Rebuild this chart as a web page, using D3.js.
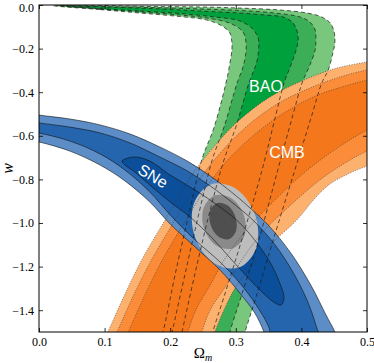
<!DOCTYPE html>
<html><head><meta charset="utf-8">
<script src="https://cdn.jsdelivr.net/npm/d3@7"></script>
<style>html,body{margin:0;padding:0;background:#fff;} svg{display:block}</style>
</head><body>
<svg id="chart" width="374" height="363"></svg>
<script>
// ---- data (Omega_m, w) ----
const xTicks = [0, 0.1, 0.2, 0.3, 0.4, 0.5];
const yTicks = [0, -0.2, -0.4, -0.6, -0.8, -1.0, -1.2, -1.4];

// BAO confidence contours (outer = 3 sigma, mid = 2 sigma, inner = 1 sigma)
const baoOuter = [[0.022,-0.003],[0.093,-0.021],[0.154,-0.037],[0.215,-0.053],[0.256,-0.069],[0.279,-0.096],[0.291,-0.128],[0.294,-0.170],[0.294,-0.206],[0.290,-0.284],[0.285,-0.358],[0.267,-0.560],[0.248,-0.711],[0.230,-0.940],[0.209,-1.216],[0.189,-1.500],[0.181,-1.583],
  [0.306,-1.583],[0.314,-1.500],[0.331,-1.339],[0.357,-1.078],[0.390,-0.757],[0.416,-0.505],[0.431,-0.358],[0.441,-0.298],[0.448,-0.220],[0.451,-0.174],[0.450,-0.124],[0.444,-0.083],[0.431,-0.055],[0.409,-0.037],[0.367,-0.023],[0.306,-0.014],[0.245,-0.009],[0.169,-0.007],[0.093,-0.002]];
const baoMid = [[0.030,-0.003],[0.093,-0.018],[0.154,-0.032],[0.215,-0.046],[0.261,-0.062],[0.294,-0.087],[0.311,-0.124],[0.3155,-0.170],[0.3155,-0.216],[0.311,-0.284],[0.302,-0.358],[0.282,-0.560],[0.264,-0.711],[0.245,-0.940],[0.224,-1.216],[0.203,-1.500],[0.197,-1.583],
  [0.285,-1.583],[0.291,-1.500],[0.308,-1.339],[0.335,-1.078],[0.364,-0.757],[0.387,-0.505],[0.401,-0.358],[0.413,-0.275],[0.421,-0.206],[0.422,-0.161],[0.421,-0.115],[0.413,-0.078],[0.398,-0.055],[0.360,-0.037],[0.306,-0.025],[0.245,-0.018],[0.169,-0.0115],[0.093,-0.007]];
const baoInner = [[0.042,-0.006],[0.154,-0.0275],[0.215,-0.039],[0.268,-0.055],[0.306,-0.073],[0.326,-0.110],[0.334,-0.151],[0.335,-0.193],[0.332,-0.261],[0.320,-0.358],[0.300,-0.560],[0.282,-0.711],[0.261,-0.940],[0.239,-1.216],[0.218,-1.500],[0.212,-1.583],
  [0.259,-1.583],[0.265,-1.500],[0.282,-1.339],[0.309,-1.078],[0.340,-0.757],[0.361,-0.505],[0.3735,-0.358],[0.384,-0.275],[0.392,-0.206],[0.395,-0.161],[0.393,-0.115],[0.386,-0.078],[0.372,-0.055],[0.345,-0.046],[0.306,-0.037],[0.245,-0.0275],[0.169,-0.016]];

// CMB confidence contours
const cmbOuter = [[0.093,-1.583],[0.105,-1.500],[0.134,-1.307],[0.159,-1.156],[0.195,-0.972],[0.226,-0.812],[0.256,-0.688],[0.302,-0.537],[0.352,-0.422],[0.404,-0.344],[0.454,-0.289],[0.500,-0.261],[0.535,-0.239],
  [0.535,-0.702],[0.500,-0.739],[0.474,-0.771],[0.4436,-0.821],[0.421,-0.885],[0.393,-0.986],[0.349,-1.110],[0.322,-1.206],[0.299,-1.298],[0.282,-1.399],[0.268,-1.500],[0.258,-1.583]];
const cmbMid = [[0.107,-1.583],[0.119,-1.500],[0.148,-1.307],[0.174,-1.156],[0.210,-0.972],[0.241,-0.817],[0.271,-0.697],[0.3155,-0.560],[0.363,-0.454],[0.413,-0.381],[0.459,-0.330],[0.500,-0.298],[0.535,-0.280],
  [0.535,-0.628],[0.500,-0.670],[0.4665,-0.725],[0.428,-0.803],[0.372,-0.950],[0.340,-1.046],[0.311,-1.161],[0.288,-1.275],[0.261,-1.399],[0.248,-1.500],[0.239,-1.583]];
const cmbInner = [[0.1235,-1.583],[0.136,-1.500],[0.165,-1.307],[0.1905,-1.156],[0.224,-0.986],[0.2546,-0.839],[0.285,-0.720],[0.328,-0.596],[0.3735,-0.495],[0.422,-0.417],[0.4665,-0.372],[0.500,-0.344],[0.535,-0.321],
  [0.535,-0.518],[0.500,-0.573],[0.459,-0.647],[0.4055,-0.766],[0.352,-0.917],[0.314,-1.041],[0.284,-1.161],[0.261,-1.284],[0.239,-1.399],[0.227,-1.500],[0.2195,-1.583]];

// SNe confidence contours
const sneOuter = [[-0.029,-0.491],[0,-0.505],[0.047,-0.523],[0.093,-0.550],[0.139,-0.592],[0.184,-0.651],[0.226,-0.716],[0.261,-0.784],[0.299,-0.872],[0.325,-0.940],[0.352,-1.018],[0.386,-1.147],[0.416,-1.294],[0.4375,-1.422],[0.451,-1.500],[0.459,-1.583],
  [0.352,-1.583],[0.343,-1.500],[0.329,-1.413],[0.306,-1.321],[0.276,-1.216],[0.238,-1.110],[0.200,-1.005],[0.169,-0.904],[0.131,-0.807],[0.093,-0.734],[0.047,-0.670],[0,-0.628],[-0.029,-0.610]];
const sneMid = [[-0.029,-0.528],[0,-0.541],[0.047,-0.560],[0.093,-0.587],[0.139,-0.633],[0.184,-0.697],[0.226,-0.761],[0.261,-0.830],[0.299,-0.917],[0.329,-0.995],[0.360,-1.101],[0.387,-1.225],[0.4085,-1.353],[0.422,-1.468],[0.431,-1.583],
  [0.364,-1.583],[0.349,-1.468],[0.331,-1.376],[0.306,-1.275],[0.276,-1.179],[0.238,-1.078],[0.200,-0.963],[0.169,-0.858],[0.131,-0.757],[0.093,-0.683],[0.047,-0.624],[0,-0.587],[-0.029,-0.573]];
const sneInner = [[0.1265,-0.716],[0.146,-0.697],[0.169,-0.716],[0.200,-0.780],[0.238,-0.849],[0.276,-0.927],[0.306,-1.000],[0.331,-1.087],[0.352,-1.179],[0.367,-1.275],[0.3735,-1.344],[0.369,-1.376],
  [0.360,-1.367],[0.340,-1.317],[0.319,-1.252],[0.294,-1.170],[0.264,-1.069],[0.230,-0.972],[0.200,-0.904],[0.169,-0.826],[0.146,-0.766],[0.131,-0.734]];

// Combined constraint contours
const combOuter = [[0.3043,-1.2055],[0.331,-1.117],[0.330,-0.968],[0.3017,-0.846],[0.2628,-0.822],[0.2361,-0.9106],[0.2372,-1.059],[0.2654,-1.181]];
const combMid = [[0.2953,-1.117],[0.313,-1.061],[0.3125,-0.966],[0.294,-0.888],[0.2688,-0.873],[0.2511,-0.930],[0.2515,-1.025],[0.270,-1.103]];
const combInner = [[0.2895,-1.074],[0.3003,-1.037],[0.2994,-0.972],[0.2875,-0.919],[0.2715,-0.908],[0.2607,-0.945],[0.2616,-1.009],[0.2735,-1.062]];

const labelNames = ["BAO", "CMB", "SNe"];
const labelPos = [[0.346,-0.372],[0.378,-0.674],[0.174,-0.784]];
const labelAngle = [0, 0, 31];

// ---- drawing ----
const W = 374, H = 363, m = {l: 39, r: 7, t: 5, b: 31};
const svg = d3.select("#chart");
const x = d3.scaleLinear().domain([0, 0.5]).range([m.l, W - m.r]);
const y = d3.scaleLinear().domain([0, -1.5]).range([m.t, H - m.b]);

svg.append("defs").append("clipPath").attr("id", "clip")
  .append("rect").attr("x", m.l).attr("y", m.t).attr("width", W - m.l - m.r).attr("height", H - m.t - m.b);

const path = d3.line().x(d => x(d[0])).y(d => y(d[1])).curve(d3.curveCatmullRomClosed.alpha(0.5));
const plot = svg.append("g").attr("clip-path", "url(#clip)");

const layers = [
  {d: baoOuter, c: "#79c77d", s: "bao"}, {d: baoMid, c: "#3cae57", s: "bao"}, {d: baoInner, c: "#00a03c", s: "bao"},
  {d: cmbOuter, c: "#fdb16f", s: "cmb"}, {d: cmbMid, c: "#fa8c3a", s: "cmb"}, {d: cmbInner, c: "#f4781b", s: "cmb"},
  {d: sneOuter, c: "#5d8dc6", s: "sne"}, {d: sneMid, c: "#2565ad", s: "sne"}, {d: sneInner, c: "#0b4f9a", s: "sne"},
  {d: combOuter, c: "#bdbdbd", s: "comb"}, {d: combMid, c: "#8a8a8a", s: "comb"}, {d: combInner, c: "#4f4f4f", s: "comb"}
];
layers.forEach(L => plot.append("path").attr("d", path(L.d)).attr("fill", L.c).attr("stroke", "none"));

const lineStyle = {
  bao: {dash: "4,3", color: "#1a1a1a", w: 0.7},
  cmb: {dash: "1,1.5", color: "#333", w: 0.6},
  sne: {dash: null, color: "#111", w: 0.6}
};
layers.filter(L => L.s !== "comb").forEach(L => {
  const st = lineStyle[L.s];
  plot.append("path").attr("d", path(L.d)).attr("fill", "none")
    .attr("stroke", st.color).attr("stroke-width", st.w)
    .attr("stroke-dasharray", st.dash);
});

// labels
labelNames.forEach((t, i) => {
  const px = x(labelPos[i][0]), py = y(labelPos[i][1]);
  svg.append("text").text(t)
    .attr("transform", `translate(${px},${py}) rotate(${labelAngle[i]})`)
    .attr("text-anchor", "middle").attr("dy", "0.36em")
    .attr("fill", "#fff").attr("font-family", "Liberation Sans, Arial, sans-serif")
    .attr("font-size", 16);
});

// axes
const fmt = d3.format(".1f");
const axB = svg.append("g").attr("transform", `translate(0,${H - m.b})`)
  .call(d3.axisBottom(x).tickValues(xTicks).tickSizeInner(-4).tickSizeOuter(0).tickPadding(5).tickFormat(fmt));
const axL = svg.append("g").attr("transform", `translate(${m.l},0)`)
  .call(d3.axisLeft(y).tickValues(yTicks).tickSizeInner(-4).tickSizeOuter(0).tickPadding(5).tickFormat(fmt));
const axT = svg.append("g").attr("transform", `translate(0,${m.t})`)
  .call(d3.axisTop(x).tickValues(xTicks).tickSizeInner(-4).tickSizeOuter(0).tickFormat(""));
const axR = svg.append("g").attr("transform", `translate(${W - m.r},0)`)
  .call(d3.axisRight(y).tickValues(yTicks).tickSizeInner(-4).tickSizeOuter(0).tickFormat(""));
[axB, axL, axT, axR].forEach(a => {
  a.select(".domain").remove();
  a.selectAll("line").attr("stroke", "#000").attr("stroke-width", 0.8);
  a.selectAll("text").attr("font-family", "Liberation Serif, Times New Roman, serif").attr("font-size", 12).attr("fill", "#000");
});
axL.selectAll(".tick text").filter(d => d === 0).attr("dy", "0.5em");

svg.append("rect").attr("x", m.l).attr("y", m.t).attr("width", W - m.l - m.r).attr("height", H - m.t - m.b)
  .attr("fill", "none").attr("stroke", "#000").attr("stroke-width", 1);

// axis titles
const xt = svg.append("text").attr("x", (m.l + W - m.r) / 2).attr("y", 358)
  .attr("text-anchor", "middle").attr("font-family", "Liberation Serif, Times New Roman, serif").attr("font-size", 15);
xt.append("tspan").text("Ω");
xt.append("tspan").text("m").attr("font-style", "italic").attr("font-size", 10).attr("dy", 3);

svg.append("text").text("w")
  .attr("transform", `translate(13,${(m.t + H - m.b) / 2}) rotate(-90)`)
  .attr("text-anchor", "middle").attr("font-family", "Liberation Serif, Times New Roman, serif")
  .attr("font-style", "italic").attr("font-size", 16);
</script>
</body></html>
